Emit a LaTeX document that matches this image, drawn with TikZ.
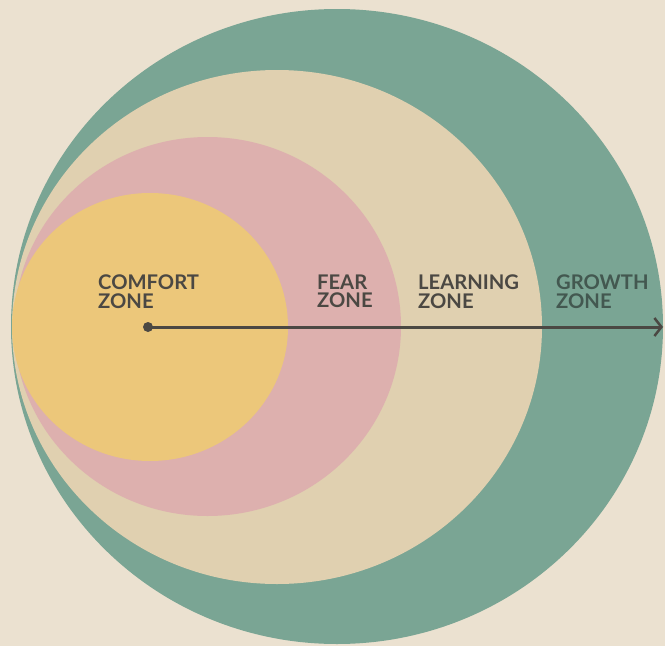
\documentclass[tikz,border=0pt]{standalone}
\usepackage{fontspec}
\setmainfont{Lato}
\usepackage{tikz}
\usetikzlibrary{arrows.meta}
\usetikzlibrary{positioning}

\definecolor{bgcol}{HTML}{EBE1D0}
\definecolor{growthcol}{HTML}{7AA594}
\definecolor{learncol}{HTML}{E0D0B0}
\definecolor{fearcol}{HTML}{DDB0AE}
\definecolor{comfortcol}{HTML}{ECC77A}
\definecolor{inkcol}{HTML}{4B4843}
\definecolor{inkgreen}{HTML}{435850}

\begin{document}
\begin{tikzpicture}[x=1pt,y=-1pt,
      zone/.style={anchor=north west,inner sep=0pt,text=inkcol,
        font=\bfseries\fontsize{20.2}{20}\selectfont},
      second/.style={zone,below=3.5pt of #1.south west,anchor=north west},
      ]
      \fill[bgcol] (0,0) rectangle (665,646);
      \useasboundingbox (0,0) rectangle (665,646);
      % the four zones, outermost first
      \fill[growthcol] (337,326.5) ellipse [x radius=326, y radius=317.5];
      \fill[learncol] (277,327) ellipse [x radius=265, y radius=257];
      \fill[fearcol] (207.5,326.5) ellipse [x radius=193.5, y radius=189.5];
      \fill[comfortcol] (150,327) ellipse [x radius=138, y radius=134];
      % labels
      \node[zone] (comfort) at (98,274.5) {COMFORT};
      \node[second=comfort] (comfortz) {ZONE};
      \node[zone] (fear) at (317,274.5) {FEAR};
      \node[second=fear] (fearz) {ZONE};
      \node[zone] (learning) at (418,274.5) {LEARNING};
      \node[second=learning] (learningz) {ZONE};
      \node[zone,text=inkgreen] (growth) at (556,274.5) {GROWTH};
      \node[second=growth,text=inkgreen] (growthz) {ZONE};
      % arrow
      \node[circle,fill=inkcol,inner sep=0pt,minimum size=10pt] (start) at (148,327) {};
      \coordinate (end) at (663,327);
      \draw[inkcol,line width=3pt,-{Straight Barb[length=7pt,width=18pt,line width=2.5pt]}]
        (start.center) -- (end);
\end{tikzpicture}
\end{document}
